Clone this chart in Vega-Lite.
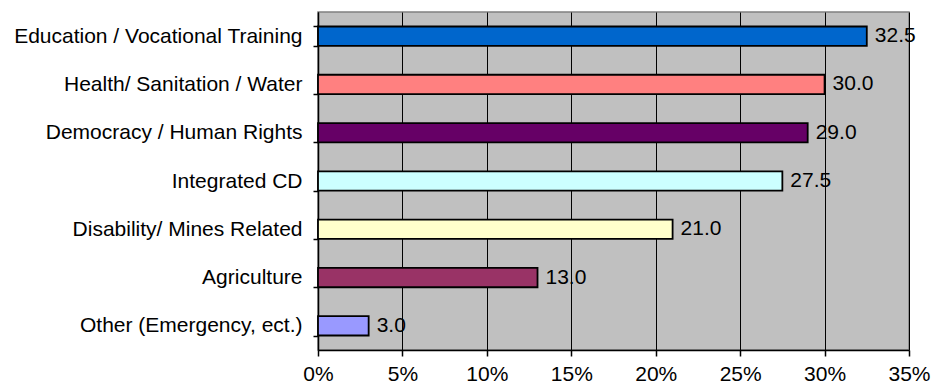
{
  "$schema": "https://vega.github.io/schema/vega-lite/v6.json",
  "width": 591,
  "height": 338,
  "autosize": {"type": "none"},
  "padding": {"left": 318, "top": 12, "right": 23, "bottom": 41},
  "background": "white",
  "config": {
    "view": {"fill": "#C0C0C0", "stroke": "#808080", "strokeWidth": 1.5},
    "font": "Liberation Sans"
  },
  "data": {
    "values": [
      {"category": "Education / Vocational Training", "value": 32.5},
      {"category": "Health/ Sanitation / Water", "value": 30.0},
      {"category": "Democracy / Human Rights", "value": 29.0},
      {"category": "Integrated CD", "value": 27.5},
      {"category": "Disability/ Mines Related", "value": 21.0},
      {"category": "Agriculture", "value": 13.0},
      {"category": "Other (Emergency, ect.)", "value": 3.0}
    ]
  },
  "encoding": {
    "y": {
      "field": "category",
      "type": "nominal",
      "sort": null,
      "scale": {"paddingInner": 0.6, "paddingOuter": 0.3},
      "axis": {
        "title": null,
        "tickBand": "extent",
        "domainColor": "black",
        "domainWidth": 1.5,
        "tickColor": "black",
        "tickSize": 5,
        "tickWidth": 1.5,
        "labelFontSize": 21,
        "labelColor": "black",
        "labelPadding": 11,
        "labelLimit": 400,
        "grid": false
      }
    },
    "x": {
      "field": "value",
      "type": "quantitative",
      "scale": {"domain": [0, 35], "nice": false},
      "axis": {
        "title": null,
        "values": [0, 5, 10, 15, 20, 25, 30, 35],
        "labelExpr": "datum.value + '%'",
        "grid": true,
        "gridColor": "black",
        "gridWidth": 1,
        "gridOpacity": 1,
        "domainColor": "black",
        "domainWidth": 1.5,
        "tickColor": "black",
        "tickSize": 6,
        "tickWidth": 1.5,
        "labelFontSize": 21,
        "labelColor": "black",
        "labelPadding": 7,
        "labelFlush": false
      }
    }
  },
  "layer": [
    {
      "mark": {"type": "bar", "stroke": "black", "strokeWidth": 1.8},
      "encoding": {
        "color": {
          "field": "category",
          "type": "nominal",
          "legend": null,
          "scale": {
            "domain": [
              "Education / Vocational Training",
              "Health/ Sanitation / Water",
              "Democracy / Human Rights",
              "Integrated CD",
              "Disability/ Mines Related",
              "Agriculture",
              "Other (Emergency, ect.)"
            ],
            "range": ["#0066CC", "#FF8080", "#660066", "#CCFFFF", "#FFFFCC", "#993366", "#9999FF"]
          }
        }
      }
    },
    {
      "mark": {"type": "text", "align": "left", "baseline": "middle", "dx": 8, "fontSize": 21, "color": "black"},
      "encoding": {
        "text": {"field": "value", "type": "quantitative", "format": ".1f"}
      }
    }
  ]
}
